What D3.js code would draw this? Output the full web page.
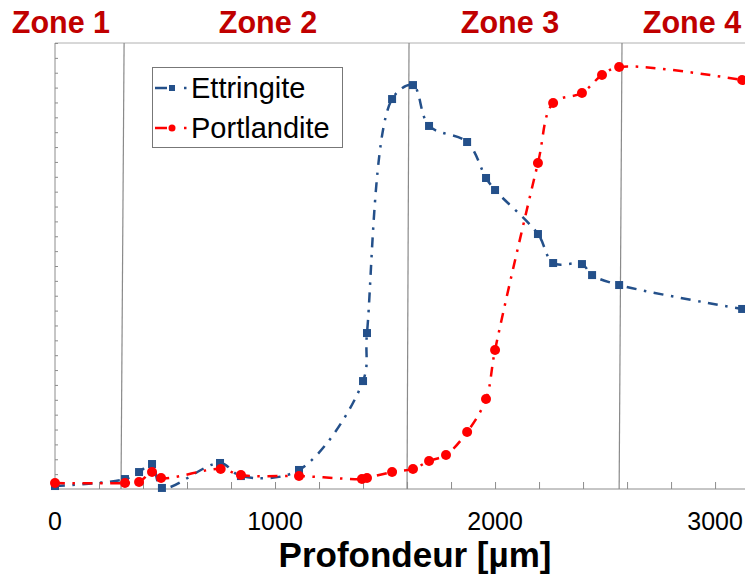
<!DOCTYPE html>
<html>
<head>
<meta charset="utf-8">
<script src="https://cdn.jsdelivr.net/npm/d3@7"></script>
<style>
  html, body { margin: 0; padding: 0; background: #fff; }
  svg { display: block; }
  text { font-family: "Liberation Sans", Arial, sans-serif; }
</style>
</head>
<body>
<svg id="chart" width="745" height="576"></svg>
<script>
// ---------- data ----------
const seriesNames = ["Ettringite", "Portlandite"];
const ettringiteDepth = [0, 318, 382, 441, 486, 750, 845, 1109, 1400, 1418, 1532, 1627, 1700, 1873, 1959, 2000, 2195, 2264, 2395, 2441, 2564, 3123];
const ettringiteValue = [0.20, 0.67, 1.14, 1.68, 0.07, 1.75, 0.87, 1.28, 7.26, 10.49, 26.23, 27.17, 24.42, 23.34, 20.92, 20.11, 17.15, 15.20, 15.13, 14.39, 13.72, 12.11];
const portlanditeDepth = [0, 318, 382, 441, 482, 753, 845, 1109, 1395, 1418, 1532, 1627, 1700, 1777, 1873, 1959, 2000, 2195, 2264, 2395, 2486, 2564, 3123];
const portlanditeValue = [0.40, 0.40, 0.47, 1.14, 0.74, 1.35, 0.94, 0.87, 0.67, 0.74, 1.14, 1.35, 1.88, 2.29, 3.83, 6.05, 9.35, 21.93, 25.96, 26.64, 27.85, 28.39, 27.51];
const xTickValues = [0, 1000, 2000, 3000];
const zoneNames = ["Zone 1", "Zone 2", "Zone 3", "Zone 4"];
const zoneLabelCenters = [27, 968, 2068, 2895];
const zoneBoundaryTop = [314, 1609, 2577];
const zoneBoundaryBottom = [300, 1600, 2564];
const xTitle = "Profondeur [µm]";

// ---------- layout ----------
const svg = d3.select("#chart");
const pLeft = 55, pRight = 745, pTop = 43, pBottom = 489;
const x = d3.scaleLinear().domain([0, 3136]).range([pLeft, pRight]);
const y = d3.scaleLinear().domain([0, 30]).range([pBottom, pTop]);

const axisGray = "#8c8c8c";
const blue = "#24508a";
const red = "#ff0000";
const dash = "10,7.5,2.5,7.5";

// top border
svg.append("line").attr("x1", pLeft).attr("x2", pRight).attr("y1", pTop).attr("y2", pTop)
  .attr("stroke", "#b0b0b0").attr("stroke-width", 1);

// zone boundary lines
svg.selectAll(".zline").data(zoneBoundaryTop).enter().append("line")
  .attr("x1", (d) => x(d)).attr("y1", pTop)
  .attr("x2", (d, i) => x(zoneBoundaryBottom[i])).attr("y2", pBottom)
  .attr("stroke", "#8a8a8a").attr("stroke-width", 1.2);

// y axis (no labels, inward minor ticks)
const yAxis = d3.axisRight(y).tickValues(d3.range(0, 31, 1)).tickSize(3).tickFormat("");
const gy = svg.append("g").attr("transform", `translate(${pLeft},0)`).call(yAxis);
gy.select(".domain").attr("stroke", axisGray).attr("d", `M0,${pTop}V${pBottom}`);
gy.selectAll(".tick line").attr("stroke", axisGray);

// x axis (inward ticks every 200)
const xAxis = d3.axisTop(x).tickValues(d3.range(0, 3137, 200)).tickSize(7).tickFormat("");
const gx = svg.append("g").attr("transform", `translate(0,${pBottom})`).call(xAxis);
gx.select(".domain").attr("stroke", axisGray).attr("d", `M${pLeft},0H${pRight}`);
gx.selectAll(".tick line").attr("stroke", axisGray);

// x tick labels
svg.selectAll(".xlab").data(xTickValues).enter().append("text")
  .attr("x", (d) => x(d)).attr("y", 530)
  .attr("text-anchor", "middle").attr("font-size", 25).attr("fill", "#000")
  .text((d) => d);

// x title
svg.append("text").attr("x", 415).attr("y", 567).attr("text-anchor", "middle")
  .attr("font-size", 35).attr("font-weight", "bold").attr("fill", "#000").text(xTitle);

// zone labels
svg.selectAll(".zlab").data(zoneNames).enter().append("text")
  .attr("x", (d, i) => x(zoneLabelCenters[i])).attr("y", 33)
  .attr("text-anchor", "middle").attr("font-size", 30.5).attr("font-weight", "bold")
  .attr("fill", "#c00000").text((d) => d);

// series
const line = d3.line().x((d) => x(d[0])).y((d) => y(d[1])).curve(d3.curveCatmullRom.alpha(0.5));
const ett = ettringiteDepth.map((d, i) => [d, ettringiteValue[i]]);
const por = portlanditeDepth.map((d, i) => [d, portlanditeValue[i]]);

svg.append("path").datum(ett).attr("d", line).attr("fill", "none")
  .attr("stroke", blue).attr("stroke-width", 2.5).attr("stroke-dasharray", dash);
svg.selectAll(".ettm").data(ett).enter().append("rect")
  .attr("x", (d) => x(d[0]) - 4).attr("y", (d) => y(d[1]) - 4)
  .attr("width", 8).attr("height", 8).attr("fill", blue);

svg.append("path").datum(por).attr("d", line).attr("fill", "none")
  .attr("stroke", red).attr("stroke-width", 2.5).attr("stroke-dasharray", dash);
svg.selectAll(".porm").data(por).enter().append("circle")
  .attr("cx", (d) => x(d[0])).attr("cy", (d) => y(d[1])).attr("r", 5).attr("fill", red);

// legend
const lg = svg.append("g");
lg.append("rect").attr("x", 152.5).attr("y", 67.5).attr("width", 190).attr("height", 80)
  .attr("fill", "#fff").attr("stroke", "#777").attr("stroke-width", 1);
const legendColors = [blue, red];
seriesNames.forEach((name, i) => {
  const cy = 88 + i * 40;
  lg.append("line").attr("x1", 155).attr("x2", 167).attr("y1", cy).attr("y2", cy)
    .attr("stroke", legendColors[i]).attr("stroke-width", 2.5);
  lg.append("line").attr("x1", 184).attr("x2", 186.5).attr("y1", cy).attr("y2", cy)
    .attr("stroke", legendColors[i]).attr("stroke-width", 2.5);
  if (i === 0) {
    lg.append("rect").attr("x", 169).attr("y", cy - 3).attr("width", 6).attr("height", 6).attr("fill", blue);
  } else {
    lg.append("circle").attr("cx", 172).attr("cy", cy).attr("r", 3.5).attr("fill", red);
  }
  lg.append("text").attr("x", 191).attr("y", cy + 9.5).attr("font-size", 29).attr("fill", "#000").text(name);
});
</script>
</body>
</html>
